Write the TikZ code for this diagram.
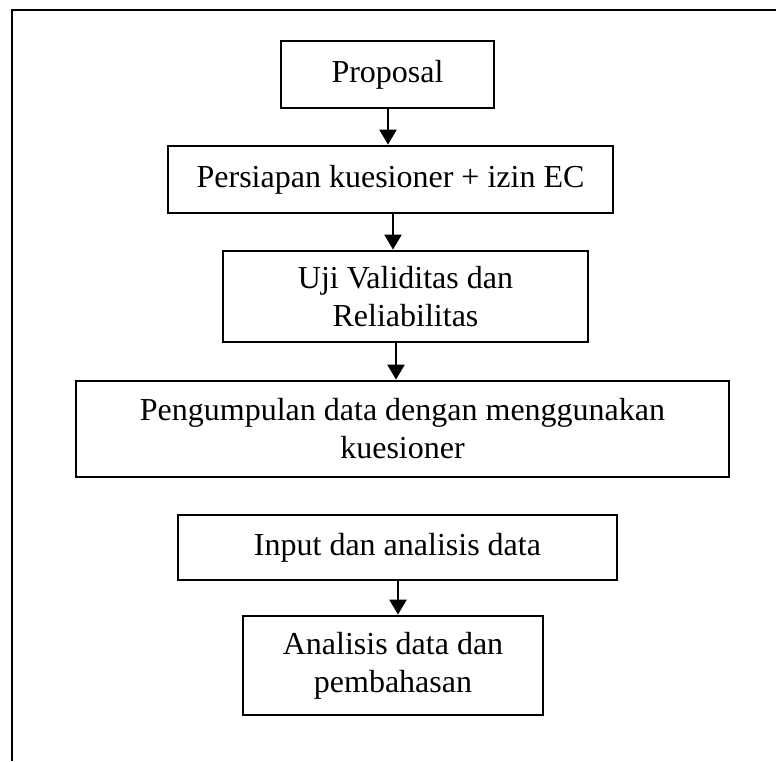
\documentclass[tikz,border=0pt]{standalone}
\usepackage{fontspec}
\setmainfont{Liberation Serif}
\usetikzlibrary{arrows.meta}
\tikzset{
  stepbox/.style={draw=black, line width=2.8pt, rectangle, inner sep=0pt, align=center,
    font=\fontsize{32}{38}\selectfont, text=black},
  arr/.style={draw=black, line width=2.4pt, -{Triangle[length=15pt,width=17pt]}},
  frame/.style={draw=black, line width=2.4pt, line join=miter}
}
\begin{document}
\begin{tikzpicture}[x=1pt,y=-1pt]
\useasboundingbox (0,0) rectangle (776,761);
\coordinate (fbl) at (12,761);
\coordinate (ftl) at (12,10);
\coordinate (ftr) at (776,10);
\draw[frame] (fbl) -- (ftl) -- (ftr);

\node[stepbox, minimum width=213pt, minimum height=67pt] (p1) at (387.5,74.5) {Proposal};
\node[stepbox, minimum width=445pt, minimum height=67pt] (p2) at (390.5,179.5) {Persiapan kuesioner + izin EC};
\node[stepbox, minimum width=365pt, minimum height=91pt] (p3) at (405.5,296.5) {Uji Validitas dan\\Reliabilitas};
\node[stepbox, minimum width=653pt, minimum height=96pt] (p4) at (402.5,429) {Pengumpulan data dengan menggunakan\\kuesioner};
\node[stepbox, minimum width=439pt, minimum height=65pt] (p5) at (397.5,547.5) {Input dan analisis data};
\node[stepbox, minimum width=300pt, minimum height=99pt] (p6) at (393,665.5) {Analisis data dan\\pembahasan};

\coordinate (x1) at (388,0);
\coordinate (x2) at (393,0);
\coordinate (x3) at (396,0);
\coordinate (x4) at (398,0);
\draw[arr] (p1.south -| x1) -- (p2.north -| x1);
\draw[arr] (p2.south -| x2) -- (p3.north -| x2);
\draw[arr] (p3.south -| x3) -- (p4.north -| x3);
\draw[arr] (p5.south -| x4) -- (p6.north -| x4);
\end{tikzpicture}
\end{document}
